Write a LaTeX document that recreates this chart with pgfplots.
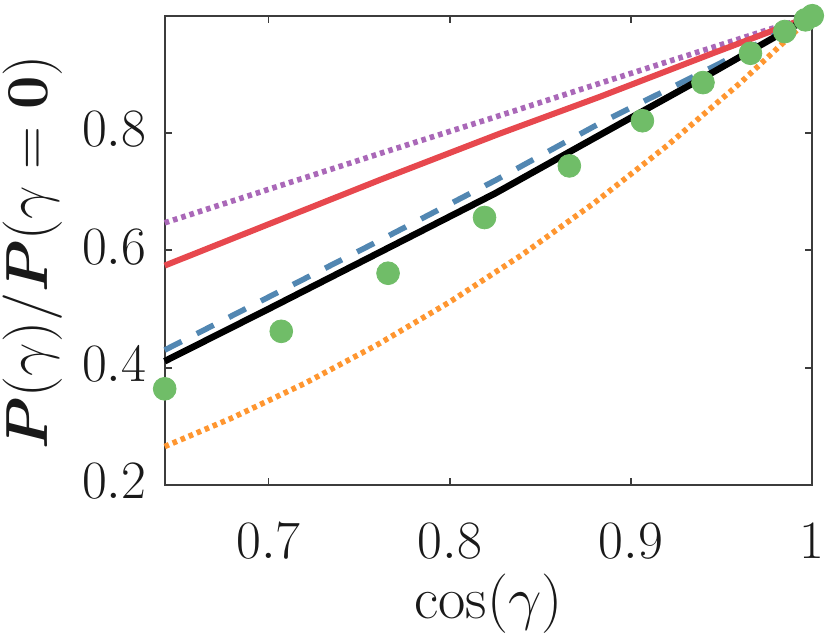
\RequirePackage{fix-cm}
\documentclass[border=0pt]{standalone}
\usepackage{amsmath}
\usepackage{pgfplots}
\pgfplotsset{compat=1.18}
\definecolor{cred}{RGB}{231,72,78}
\definecolor{cblue}{RGB}{82,135,178}
\definecolor{cpurple}{RGB}{170,104,184}
\definecolor{corange}{RGB}{255,150,48}
\definecolor{cgreen}{RGB}{112,189,104}
\definecolor{axgray}{RGB}{60,60,60}
\begin{document}
\begin{tikzpicture}
\begin{axis}[
  at={(0,0)}, anchor=south west,
  scale only axis, width=323.8pt, height=234.65pt,
  xmin=0.6428, xmax=1, ymin=0.2, ymax=1,
  xtick={0.7,0.8,0.9,1}, xticklabels={$0.7$,$0.8$,$0.9$,$1$},
  ytick={0.2,0.4,0.6,0.8}, yticklabels={$0.2$,$0.4$,$0.6$,$0.8$},
  tick align=inside, major tick length=3.5pt,
  axis line style={axgray, line width=0.9pt},
  every tick/.style={axgray, line width=0.9pt},
  tick label style={font=\fontsize{27}{32}\selectfont, text=black!90, inner sep=0pt},
  xticklabel style={anchor=base, yshift=-36.5pt},
  yticklabel style={anchor=base east, xshift=-9pt, yshift=-6.85pt},
  label style={font=\fontsize{29.7}{35}\selectfont, inner sep=0pt, text=black!90},
  xlabel={$\cos(\gamma)$},
  ylabel={$\boldsymbol{P}(\gamma)/\boldsymbol{P}(\gamma=\mathbf{0})$},
  xlabel style={at={(axis description cs:0.5,-0.2855)}, anchor=base},
  ylabel style={at={(axis description cs:-0.1802,0.4954)}, anchor=base},
  clip=false,
]
% orange dotted
\addplot[corange, line width=2.8pt, dash pattern=on 2.3pt off 2.05pt] coordinates {
(0.6428,0.2656) (0.68,0.3144) (0.72,0.3732) (0.76,0.4390) (0.80,0.5120)
(0.84,0.5927) (0.88,0.6815) (0.92,0.7787) (0.96,0.8847) (1.0,1.0)};
% purple dotted
\addplot[cpurple, line width=2.8pt, dash pattern=on 2.3pt off 2.05pt] coordinates {
(0.6428,0.647) (0.7614,0.765) (0.8248,0.827) (0.8830,0.885) (0.9460,0.947) (1.0,1.0)};
% red solid
\addplot[cred, line width=3pt] coordinates {
(0.6428,0.574) (0.7614,0.720) (0.8276,0.799) (0.8830,0.862) (0.9460,0.937) (1.0,1.0)};
% blue dashed
\addplot[cblue, line width=2.8pt, dash pattern=on 9.5pt off 8.5pt] coordinates {
(0.6428,0.430) (0.7614,0.617) (0.8250,0.719) (0.8830,0.817) (0.9460,0.914) (1.0,1.0)};
% black solid
\addplot[black, line width=3.3pt] coordinates {
(0.6428,0.411) (0.70,0.500) (0.7660,0.604) (0.8250,0.697) (0.8830,0.797) (0.9460,0.905) (1.0,1.0)};
% green markers
\addplot[only marks, color=cgreen, mark=*, mark size=5.7pt, mark options={line width=0.4pt}] coordinates {
(0.6428,0.364) (0.7071,0.462) (0.7660,0.561) (0.8192,0.656) (0.8660,0.744)
(0.9063,0.821) (0.9397,0.886) (0.9659,0.936) (0.9848,0.973) (0.9962,0.993) (1.0,1.0)};
\end{axis}
\pgfresetboundingbox
\useasboundingbox (-82.35pt,-76.5pt) rectangle (333.15pt,242.5pt);
\end{tikzpicture}
\end{document}
